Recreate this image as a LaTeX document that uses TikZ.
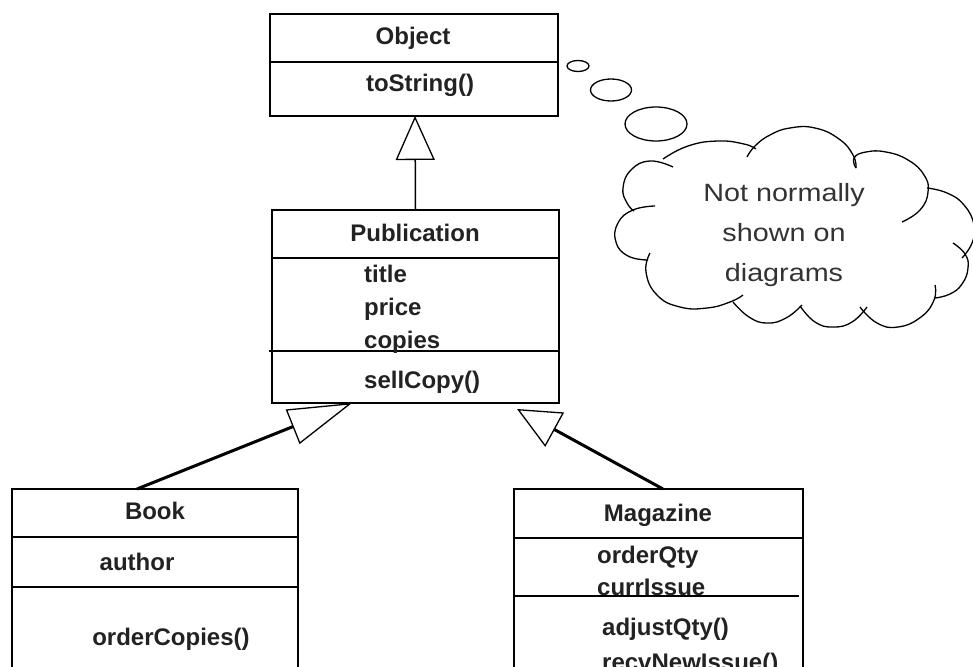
\documentclass[tikz,border=0pt]{standalone}
\usepackage{fontspec}
\setmainfont{Liberation Sans}
\usepackage{graphicx}
\usetikzlibrary{arrows.meta}
\definecolor{ink}{HTML}{222222}
\definecolor{cloudink}{HTML}{333333}
\begin{document}
\begin{tikzpicture}[x=1pt,y=-1pt,
  cls/.style={draw, rectangle, inner sep=0pt, outer sep=0pt, line width=1.3pt},
  hdr/.style={line width=2pt},
  divline/.style={line width=1.3pt},
  lbl/.style={font=\fontsize{24}{28}\selectfont\bfseries, text=ink, inner sep=0pt, text height=17pt, text depth=0pt},
  lft/.style={lbl, anchor=west},
  cl/.style={line width=1.3pt, line join=round},
  gentop/.style={line width=1.5pt, -{Triangle[open, length=44pt, width=39pt, line width=1.3pt]}},
  genleft/.style={line width=3pt, -{Triangle[open, length=64pt, width=37pt, line width=1.3pt]}},
  genright/.style={line width=3pt, -{Triangle[open, length=43pt, width=39pt, line width=1.3pt]}}
]
\useasboundingbox (0,0) rectangle (973,666);
\clip (0,0) rectangle (973,666);

% Object
\node[cls, minimum width=288pt, minimum height=102pt] (obj) at (414,65) {};
\draw[hdr] (270,14) rectangle (558,62);
\node[lbl] (objname) at (413,36) {Object};
\node[lbl] (objop) at (420,83) {toString()};

% Publication
\node[cls, minimum width=287pt, minimum height=193pt] (pub) at (415.5,306.5) {};
\draw[hdr] (272,210) rectangle (559,258);
\draw[divline] (269,351) -- (559,351);
\node[lbl] (pubname) at (415,233) {Publication};
\node[lft] (pa1) at (364,274) {title};
\node[lft] (pa2) at (364,307) {price};
\node[lft] (pa3) at (364,340) {copies};
\node[lft] (pop) at (364,380) {sellCopy()};

% Book
\node[cls, minimum width=286pt, minimum height=211pt] (book) at (155,594.5) {};
\draw[hdr] (12,489) rectangle (298,537);
\draw[divline] (12,587) -- (298,587);
\node[lbl] (bookname) at (155,511) {Book};
\node[lbl] (ba1) at (137,562) {author};
\node[lbl] (bop) at (171,637) {orderCopies()};

% Magazine
\node[cls, minimum width=289pt, minimum height=211pt] (mag) at (658.5,594.5) {};
\draw[hdr] (514,489) rectangle (803,538);
\draw[divline] (514,596) -- (799,596);
\node[lbl] (magname) at (658,513) {Magazine};
\node[lft] (ma1) at (597,555) {orderQty};
\node[lft] (ma2) at (597,587) {currIssue};
\node[lft] (mop1) at (602,627) {adjustQty()};
\node[lft] (mop2) at (602,662) {recvNewIssue()};

% generalisations
\draw[gentop] (pub.north) -- ([xshift=1pt]obj.south);
\draw[genleft] ([xshift=125pt]book.north west) -- ([xshift=80pt]pub.south west);
\draw[genright] ([xshift=149pt]mag.north west) -- ([xshift=-42pt,yshift=-6pt]pub.south east);

% thought bubbles
\draw[cl] (578,66) ellipse [x radius=11pt, y radius=5.5pt];
\draw[cl] (611,90) ellipse [x radius=20.5pt, y radius=11pt];
\draw[cl] (656,124) ellipse [x radius=31pt, y radius=17pt];

% cloud lobes
\draw[cl] plot[smooth, tension=0.8] coordinates {(673,167) (650,161) (631,170) (623,188) (627,203) (634,211)};
\draw[cl] plot[smooth, tension=0.8] coordinates {(655,206) (633,210) (618,223) (616,242) (628,256) (648,260)};
\draw[cl] plot[smooth, tension=0.8] coordinates {(650,253) (646,272) (657,295) (680,307) (707,308) (730,302) (743,295)};
\draw[cl] plot[smooth, tension=0.8] coordinates {(733,302) (749,317) (767,323) (786,318) (802,305)};
\draw[cl] plot[smooth, tension=0.8] coordinates {(800,306) (815,322) (833,327) (852,322) (867,307)};
\draw[cl] plot[smooth, tension=0.8] coordinates {(860,307) (877,323) (898,327) (921,317) (934,300) (935,285)};
\draw[cl] plot[smooth, tension=0.8] coordinates {(953,243) (965,254) (968,268) (962,284) (950,294) (935,298)};
\draw[cl] plot[smooth, tension=0.8] coordinates {(927,188) (947,193) (964,205) (974,225) (972,243) (962,258)};
\draw[cl] plot[smooth, tension=0.8] coordinates {(856,168) (854,158) (866,152) (886,152) (908,160) (924,175) (928,192) (920,210) (902,222)};
\draw[cl] plot[smooth, tension=0.8] coordinates {(747,157) (755,146) (770,135) (790,128) (815,128) (839,139) (853,155) (856,168)};
\draw[cl] plot[smooth, tension=0.8] coordinates {(663,159) (688,146) (718,141) (744,144) (756,149)};

\node[text=cloudink, inner sep=0pt] (note) at (784,233)
  {\fontsize{25}{40}\selectfont\scalebox{1.15}[1]{\begin{tabular}{@{}c@{}}Not normally\\ shown on\\ diagrams\end{tabular}}};
\end{tikzpicture}
\end{document}
